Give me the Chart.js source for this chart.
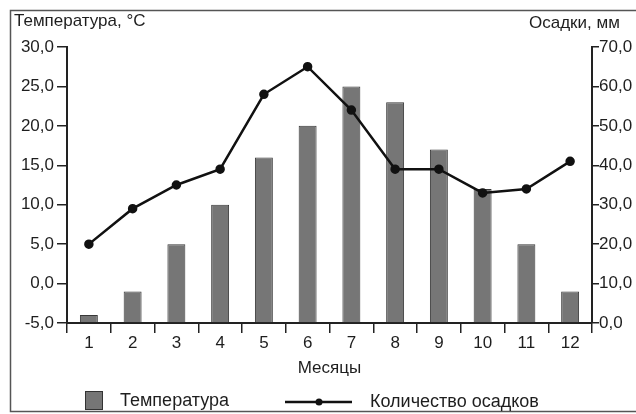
<!DOCTYPE html>
<html lang="ru">
<head>
    <meta charset="UTF-8">
    <title>Температура и осадки</title>
    <script src="https://cdn.jsdelivr.net/npm/chart.js"></script>
    <style>
        body { margin: 0; background: #fff; }
        #wrap { width: 636px; height: 414px; }
    </style>
</head>
<body>
    <div id="wrap"><canvas id="climateChart" width="636" height="414"></canvas></div>

    <script>
        // Data
        const months = ['1', '2', '3', '4', '5', '6', '7', '8', '9', '10', '11', '12'];
        const temperature = [-4, -1, 5, 10, 16, 20, 25, 23, 17, 12, 5, -1];
        const precipitation = [20, 29, 35, 39, 58, 65, 54, 39, 39, 33, 34, 41];
        const tempTicks = ['-5,0', '0,0', '5,0', '10,0', '15,0', '20,0', '25,0', '30,0'];
        const rainTicks = ['0,0', '10,0', '20,0', '30,0', '40,0', '50,0', '60,0', '70,0'];

        const FONT = 'Liberation Sans, Arial, sans-serif';
        const INK = '#1e1e1e';

        // Titles, frame and legend drawn around the plot
        const decorations = {
            id: 'decorations',
            afterDraw(chart) {
                const ctx = chart.ctx;
                ctx.save();
                ctx.strokeStyle = '#555';
                ctx.lineWidth = 1.5;
                ctx.strokeRect(10.5, 10.5, 640, 401);

                ctx.fillStyle = INK;
                ctx.font = '17px ' + FONT;
                ctx.textBaseline = 'middle';
                ctx.textAlign = 'left';
                ctx.fillText('Температура, °C', 14, 21);
                ctx.fillText('Осадки, мм', 529, 23);

                // legend
                ctx.font = '18px ' + FONT;
                ctx.fillStyle = '#767676';
                ctx.strokeStyle = '#333';
                ctx.lineWidth = 1;
                ctx.fillRect(85, 391, 17, 18);
                ctx.strokeRect(85.5, 391.5, 17, 18);
                ctx.fillStyle = INK;
                ctx.fillText('Температура', 120, 401);

                ctx.strokeStyle = '#111';
                ctx.lineWidth = 2.5;
                ctx.beginPath();
                ctx.moveTo(285, 402);
                ctx.lineTo(352, 402);
                ctx.stroke();
                ctx.fillStyle = '#111';
                ctx.beginPath();
                ctx.arc(319, 402, 3.5, 0, Math.PI * 2);
                ctx.fill();
                ctx.fillStyle = INK;
                ctx.fillText('Количество осадков', 370, 402);
                ctx.restore();
            }
        };

        const ctx = document.getElementById('climateChart').getContext('2d');
        new Chart(ctx, {
            data: {
                labels: months,
                datasets: [{
                    type: 'line',
                    label: 'Количество осадков',
                    data: precipitation,
                    yAxisID: 'y1',
                    borderColor: '#111',
                    borderWidth: 2.5,
                    pointBackgroundColor: '#111',
                    pointBorderColor: '#111',
                    pointRadius: 3.5,
                    tension: 0,
                    order: 1
                }, {
                    type: 'bar',
                    label: 'Температура',
                    data: temperature,
                    yAxisID: 'y',
                    base: -5,
                    backgroundColor: '#767676',
                    borderColor: '#383838',
                    borderWidth: 1,
                    categoryPercentage: 1,
                    barPercentage: 0.41,
                    order: 2
                }]
            },
            options: {
                responsive: false,
                animation: false,
                layout: { padding: { top: 47, left: 0, right: 0, bottom: 35 } },
                plugins: {
                    legend: { display: false },
                    tooltip: { enabled: false }
                },
                scales: {
                    x: {
                        offset: true,
                        grid: {
                            offset: true,
                            drawOnChartArea: false,
                            drawTicks: true,
                            tickLength: 10,
                            color: '#222',
                            lineWidth: 1.5
                        },
                        border: { color: '#222', width: 2 },
                        ticks: { color: INK, font: { size: 17, family: FONT }, padding: 0 },
                        title: {
                            display: true,
                            text: 'Месяцы',
                            color: INK,
                            font: { size: 17, family: FONT },
                            padding: { top: 4, bottom: 0 }
                        },
                        afterFit(scale) { scale.height = 56; }
                    },
                    y: {
                        position: 'left',
                        min: -5,
                        max: 30,
                        ticks: {
                            stepSize: 5,
                            color: INK,
                            font: { size: 17, family: FONT },
                            padding: 3,
                            callback: (v, i) => tempTicks[i]
                        },
                        grid: {
                            drawOnChartArea: false,
                            tickLength: 10,
                            color: '#222',
                            lineWidth: 1.5
                        },
                        border: { color: '#222', width: 2 },
                        afterFit(scale) { scale.width = 67; }
                    },
                    y1: {
                        position: 'right',
                        min: 0,
                        max: 70,
                        ticks: {
                            stepSize: 10,
                            color: INK,
                            font: { size: 17, family: FONT },
                            padding: 0,
                            callback: (v, i) => rainTicks[i]
                        },
                        grid: {
                            drawOnChartArea: false,
                            tickLength: 7,
                            color: '#222',
                            lineWidth: 1.5
                        },
                        border: { color: '#222', width: 2 },
                        afterFit(scale) { scale.width = 44; }
                    }
                }
            },
            plugins: [decorations]
        });
    </script>
</body>
</html>
